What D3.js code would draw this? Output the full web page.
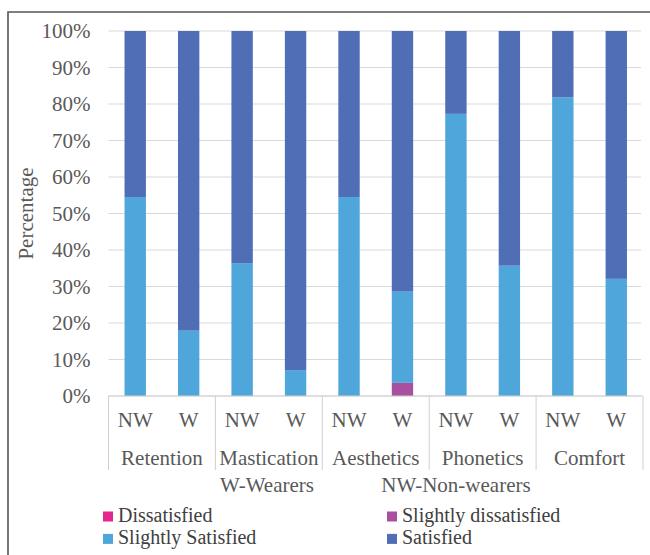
<!DOCTYPE html>
<html>
<head>
<meta charset="utf-8">
<script src="https://cdn.jsdelivr.net/npm/d3@7"></script>
<style>
  html, body { margin: 0; padding: 0; background: #ffffff; }
  svg { display: block; }
  text { font-family: "Liberation Serif", "Times New Roman", serif; }
</style>
</head>
<body>
<svg id="chart" width="650" height="555"></svg>
<script>
// Satisfaction with dentures by aspect, for non-wearers (NW) and wearers (W)
const categories = ["Retention", "Mastication", "Aesthetics", "Phonetics", "Comfort"];
const groups = ["NW", "W"];
const seriesNames = ["Dissatisfied", "Slightly dissatisfied", "Slightly Satisfied", "Satisfied"];
const seriesColors = ["#e3278f", "#a84f9f", "#4ea6db", "#4f6eb6"];

// One value per bar, in order Retention NW, Retention W, Mastication NW, ...
const dissatisfied         = [0, 0, 0, 0, 0, 0, 0, 0, 0, 0];
const slightlyDissatisfied = [0, 0, 0, 0, 0, 3.6, 0, 0, 0, 0];
const slightlySatisfied    = [54.5, 17.9, 36.4, 7.1, 54.5, 25.0, 77.3, 35.7, 81.8, 32.1];
const satisfied            = [45.5, 82.1, 63.6, 92.9, 45.5, 71.4, 22.7, 64.3, 18.2, 67.9];

const yTicks = [0, 10, 20, 30, 40, 50, 60, 70, 80, 90, 100];
const noteLabels = ["W-Wearers", "NW-Non-wearers"];

const seriesValues = [dissatisfied, slightlyDissatisfied, slightlySatisfied, satisfied];

const rows = [];
categories.forEach((c, ci) => {
  groups.forEach((g, gi) => {
    const i = ci * groups.length + gi;
    const row = { key: c + "|" + g, category: c, group: g };
    seriesNames.forEach((s, si) => { row[s] = seriesValues[si][i]; });
    rows.push(row);
  });
});

const FONT = "'Liberation Serif', 'Times New Roman', serif";
const FS = 21;
const LEGEND_FS = 20;
const axisColor = "#595959";

const svg = d3.select("#chart");

// outer frame
svg.append("path")
  .attr("d", "M8,560 L8,12 L660,12")
  .attr("fill", "none")
  .attr("stroke", "#555")
  .attr("stroke-width", 1.6);

const plotLeft = 108.5, plotRight = 643, plotTop = 31, plotBottom = 396;

const x = d3.scaleBand()
  .domain(rows.map(d => d.key))
  .range([plotLeft, plotRight])
  .paddingInner(0.6)
  .paddingOuter(0.3);

const y = d3.scaleLinear().domain([0, 100]).range([plotBottom, plotTop]);

// gridlines
svg.append("g")
  .selectAll("line")
  .data(yTicks)
  .join("line")
  .attr("x1", plotLeft)
  .attr("x2", plotRight - 2)
  .attr("y1", d => y(d))
  .attr("y2", d => y(d))
  .attr("stroke", "#d9d9d9")
  .attr("stroke-width", 1);

// y axis labels
const yAxis = d3.axisLeft(y).tickValues(yTicks).tickFormat(d => d + "%").tickSize(0).tickPadding(0);
const yg = svg.append("g")
  .attr("transform", `translate(${plotLeft - 18},0)`)
  .call(yAxis)
  .attr("font-family", FONT)
  .attr("font-size", FS);
yg.select(".domain").remove();
yg.selectAll("text")
  .attr("fill", axisColor)
  .attr("font-family", FONT)
  .attr("font-size", FS);

// axis title
svg.append("text")
  .attr("transform", `translate(33,${(plotTop + plotBottom) / 2}) rotate(-90)`)
  .attr("text-anchor", "middle")
  .attr("font-family", FONT)
  .attr("font-size", FS)
  .attr("fill", axisColor)
  .text("Percentage");

// stacked bars
const stack = d3.stack().keys(seriesNames);
const stacked = stack(rows);

svg.append("g")
  .selectAll("g")
  .data(stacked)
  .join("g")
  .attr("fill", (d, i) => seriesColors[i])
  .selectAll("rect")
  .data(d => d.filter(p => p[1] - p[0] > 0))
  .join("rect")
  .attr("x", d => x(d.data.key))
  .attr("width", x.bandwidth())
  .attr("y", d => y(d[1]))
  .attr("height", d => y(d[0]) - y(d[1]));

// category axis: baseline and group boxes
const boxBottom = 470;
svg.append("line")
  .attr("x1", plotLeft).attr("x2", plotRight)
  .attr("y1", plotBottom).attr("y2", plotBottom)
  .attr("stroke", "#d0d0d0").attr("stroke-width", 1);

const groupEdges = categories.map(c => x(c + "|" + groups[0]) - x.step() * x.paddingOuter());
groupEdges.push(plotRight);
svg.append("g")
  .selectAll("line")
  .data(groupEdges)
  .join("line")
  .attr("x1", d => d).attr("x2", d => d)
  .attr("y1", plotBottom).attr("y2", boxBottom)
  .attr("stroke", "#d0d0d0").attr("stroke-width", 1);

// NW / W labels
svg.append("g")
  .selectAll("text")
  .data(rows)
  .join("text")
  .attr("x", d => x(d.key) + x.bandwidth() / 2)
  .attr("y", 427)
  .attr("text-anchor", "middle")
  .attr("font-family", FONT)
  .attr("font-size", FS)
  .attr("fill", axisColor)
  .text(d => d.group);

// category labels
svg.append("g")
  .selectAll("text")
  .data(categories)
  .join("text")
  .attr("x", (d, i) => (groupEdges[i] + groupEdges[i + 1]) / 2)
  .attr("y", 465)
  .attr("text-anchor", "middle")
  .attr("font-family", FONT)
  .attr("font-size", FS)
  .attr("fill", axisColor)
  .text(d => d);

// abbreviation notes
const noteX = [267, 456];
svg.append("g")
  .selectAll("text")
  .data(noteLabels)
  .join("text")
  .attr("x", (d, i) => noteX[i])
  .attr("y", 492)
  .attr("text-anchor", "middle")
  .attr("font-family", FONT)
  .attr("font-size", FS)
  .attr("fill", axisColor)
  .text(d => d);

// legend (two rows, two columns)
const legendPos = [[103, 516], [387, 516], [103, 538.4], [387, 538.4]];
const legend = svg.append("g")
  .selectAll("g")
  .data(seriesNames)
  .join("g")
  .attr("transform", (d, i) => `translate(${legendPos[i][0]},${legendPos[i][1]})`);
legend.append("rect")
  .attr("x", 0).attr("y", -4.5)
  .attr("width", 10).attr("height", 10)
  .attr("fill", (d, i) => seriesColors[i]);
legend.append("text")
  .attr("x", 15).attr("y", 5.5)
  .attr("font-family", FONT)
  .attr("font-size", LEGEND_FS)
  .attr("fill", "#404040")
  .text(d => d);
</script>
</body>
</html>
